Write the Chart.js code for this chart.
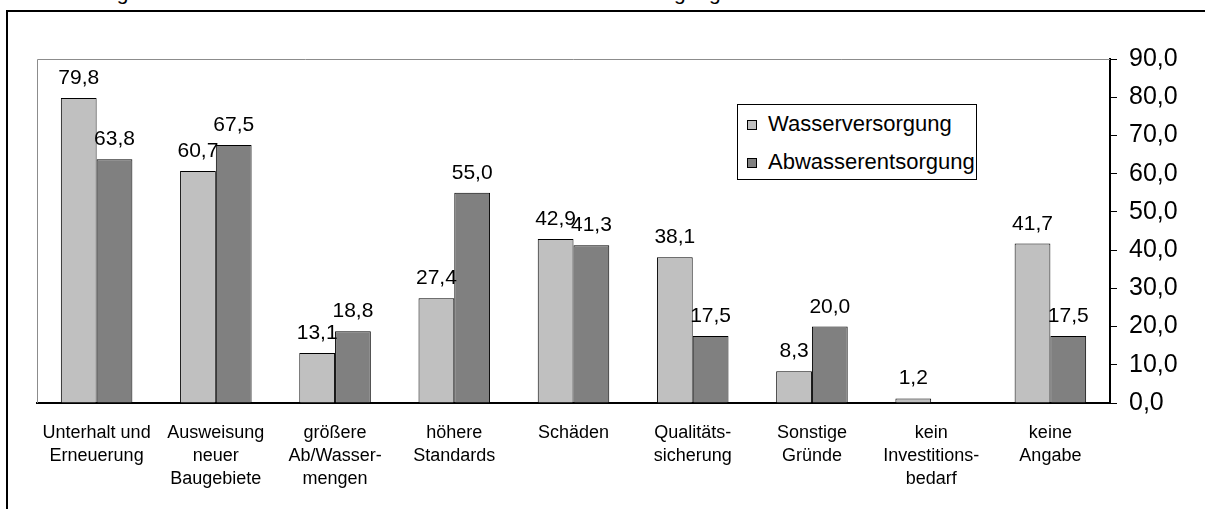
<!DOCTYPE html>
<html>
<head>
<meta charset="utf-8">
<script src="https://cdn.jsdelivr.net/npm/chart.js@4"></script>
<style>
  html, body { margin: 0; padding: 0; background: #fff; overflow: hidden; }
  body { width: 1205px; height: 509px; position: relative; font-family: Arial, "Liberation Sans", sans-serif; }
  #title { position: absolute; left: 35px; top: -19px; font-size: 21px; line-height: 24px; white-space: nowrap; color: #000; }
  #frame { position: absolute; left: 6px; top: 10px; width: 1300px; height: 600px; border: 2px solid #000; }
  #wrap { position: absolute; left: 0; top: 0; width: 1205px; height: 509px; }
  #legend { position: absolute; left: 737px; top: 104px; width: 238px; height: 74px; border: 1px solid #000; background: #fff; font-size: 22px; }
  #legend div { position: absolute; left: 9px; height: 26px; line-height: 26px; white-space: nowrap; }
  #legend span.box { display: inline-block; width: 8px; height: 8px; border: 1px solid #000; margin-right: 11px; vertical-align: 1px; }
</style>
</head>
<body>
<div id="title">Abbildung 16: Gründe für den Investitionsbedarf in der Wasserversorgung</div>
<div id="frame"></div>
<div id="wrap"><canvas id="chart" width="1205" height="509"></canvas></div>
<div id="legend"></div>
<script>
// categories (multi-line labels as in the original)
const categories = [
    ['Unterhalt und', 'Erneuerung'],
    ['Ausweisung', 'neuer', 'Baugebiete'],
    ['größere', 'Ab/Wasser-', 'mengen'],
    ['höhere', 'Standards'],
    ['Schäden'],
    ['Qualitäts-', 'sicherung'],
    ['Sonstige', 'Gründe'],
    ['kein', 'Investitions-', 'bedarf'],
    ['keine', 'Angabe']
];

const wasserversorgung = [79.8, 60.7, 13.1, 27.4, 42.9, 38.1, 8.3, 1.2, 41.7];
const abwasserentsorgung = [63.8, 67.5, 18.8, 55.0, 41.3, 17.5, 20.0, 0, 17.5];

const seriesNames = ['Wasserversorgung', 'Abwasserentsorgung'];
const seriesColors = ['#c0c0c0', '#808080'];

const yMin = 0, yMax = 90, yStep = 10;

const fmt = v => v.toFixed(1).replace('.', ',');

// values above the bars (zero values get no label)
const valueLabels = {
    id: 'valueLabels',
    afterDatasetsDraw(chart) {
        const ctx = chart.ctx;
        ctx.save();
        ctx.font = '21px Arial, "Liberation Sans", sans-serif';
        ctx.fillStyle = '#000';
        ctx.textAlign = 'center';
        ctx.textBaseline = 'alphabetic';
        chart.data.datasets.forEach((ds, i) => {
            chart.getDatasetMeta(i).data.forEach((bar, j) => {
                const v = ds.data[j];
                if (!v) return;
                ctx.fillText(fmt(v), bar.x, bar.y - 14);
            });
        });
        ctx.restore();
    }
};

// grey plot-area edge on top and left
const plotFrame = {
    id: 'plotFrame',
    beforeDatasetsDraw(chart) {
        const { ctx, chartArea: a } = chart;
        ctx.save();
        ctx.strokeStyle = '#8c8c8c';
        ctx.lineWidth = 1;
        ctx.beginPath();
        ctx.moveTo(a.left + 0.5, a.bottom);
        ctx.lineTo(a.left + 0.5, a.top + 0.5);
        ctx.lineTo(a.right, a.top + 0.5);
        ctx.stroke();
        ctx.restore();
    }
};

Chart.defaults.font.family = 'Arial, "Liberation Sans", sans-serif';
Chart.defaults.color = '#000';

const chart = new Chart(document.getElementById('chart'), {
    type: 'bar',
    data: {
        labels: categories,
        datasets: [
            { label: seriesNames[0], data: wasserversorgung, backgroundColor: seriesColors[0], borderColor: '#000', borderWidth: 1 },
            { label: seriesNames[1], data: abwasserentsorgung, backgroundColor: seriesColors[1], borderColor: '#000', borderWidth: 1 }
        ]
    },
    options: {
        responsive: false,
        animation: false,
        layout: { padding: { left: 37, top: 59, right: 0, bottom: 0 } },
        datasets: { bar: { categoryPercentage: 0.6, barPercentage: 1.0 } },
        plugins: { legend: { display: false }, tooltip: { enabled: false } },
        scales: {
            x: {
                grid: { display: true, drawOnChartArea: false, drawTicks: false },
                border: { display: true, color: '#000', width: 2 },
                ticks: { font: { size: 18, lineHeight: 1.27 }, padding: 19, maxRotation: 0, autoSkip: false },
                afterFit: s => { s.height = 106; }
            },
            y: {
                position: 'right',
                min: yMin,
                max: yMax,
                grid: { drawOnChartArea: false, drawTicks: true, tickLength: 7, color: '#000', lineWidth: 1 },
                border: { display: true, color: '#000', width: 2 },
                ticks: { stepSize: yStep, font: { size: 25 }, padding: 12, callback: v => fmt(v) },
                afterFit: s => { s.width = 95; }
            }
        }
    },
    plugins: [plotFrame, valueLabels]
});

// legend box inside the plot
const legend = document.getElementById('legend');
seriesNames.forEach((name, i) => {
    const row = document.createElement('div');
    row.style.top = (i === 0 ? 6 : 44) + 'px';
    row.innerHTML = '<span class="box" style="background:' + seriesColors[i] + '"></span>' + name;
    legend.appendChild(row);
});
</script>
</body>
</html>
